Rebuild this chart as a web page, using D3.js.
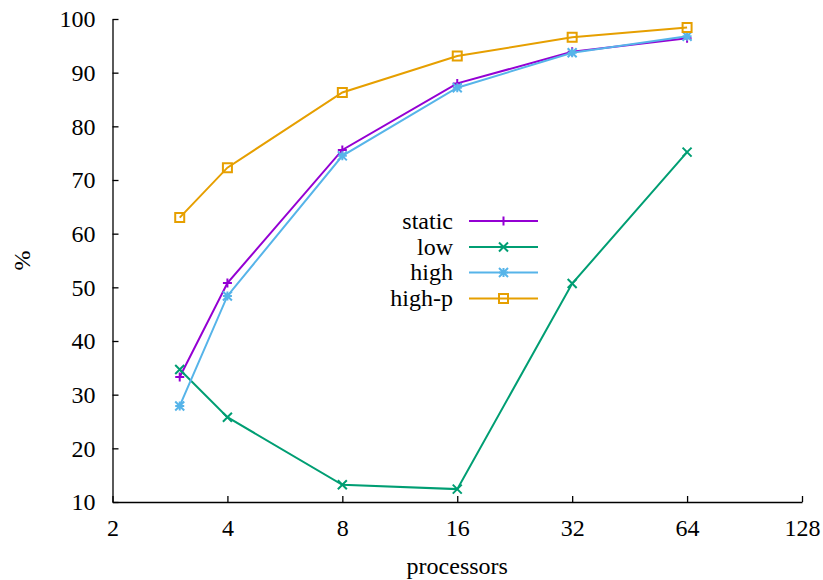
<!DOCTYPE html>
<html>
<head>
<meta charset="utf-8">
<script src="https://cdn.jsdelivr.net/npm/d3@7"></script>
<style>
  html, body { margin: 0; padding: 0; background: #fff; }
  svg { display: block; }
  text { font-family: "Liberation Serif", "DejaVu Serif", serif; fill: #000; }
</style>
</head>
<body>
<svg id="chart" width="823" height="580"></svg>
<script>
// Processor counts and percentages per scheduling variant
const processors = [3, 4, 8, 16, 32, 64];
const staticVals = [33.3, 50.8, 75.6, 88.0, 93.9, 96.4];
const lowVals    = [34.7, 25.8, 13.2, 12.4, 50.7, 75.2];
const highVals   = [27.9, 48.4, 74.5, 87.2, 93.7, 96.8];
const highPVals  = [63.0, 72.3, 86.3, 93.1, 96.6, 98.4];

const seriesNames  = ["static", "low", "high", "high-p"];
const seriesColors = ["#9400d3", "#009e73", "#56b4e9", "#e69f00"];
const seriesMarks  = ["plus", "cross", "star", "square"];

const xTicks = [2, 4, 8, 16, 32, 64, 128];
const yTicks = [10, 20, 30, 40, 50, 60, 70, 80, 90, 100];

const series = [staticVals, lowVals, highVals, highPVals].map((vals, i) => ({
  name: seriesNames[i], color: seriesColors[i], mark: seriesMarks[i],
  points: processors.map((p, j) => ({ x: p, y: vals[j] }))
}));

const svg = d3.select("#chart");
const margin = { left: 112.5, right: 21, top: 19, bottom: 78 };
const W = 823, H = 580;

const x = d3.scaleLog().base(2).domain([2, 128]).range([margin.left, W - margin.right]);
const y = d3.scaleLinear().domain([10, 100]).range([H - margin.bottom, margin.top]);

const fontSize = 24;

// Axes: ticks point into the plot area
const xAxis = d3.axisBottom(x).tickValues(xTicks).tickFormat(d3.format("d"))
  .tickSizeInner(-6).tickSizeOuter(0).tickPadding(17);
const yAxis = d3.axisLeft(y).tickValues(yTicks).tickFormat(d3.format("d"))
  .tickSizeInner(-6).tickSizeOuter(0).tickPadding(17);

const gx = svg.append("g").attr("transform", `translate(0,${y(10)})`).call(xAxis);
const gy = svg.append("g").attr("transform", `translate(${x(2)},0)`).call(yAxis);

[gx, gy].forEach(g => {
  g.select(".domain").attr("stroke", "#000").attr("stroke-width", 1.3);
  g.selectAll(".tick line").attr("stroke", "#000").attr("stroke-width", 1.3);
  g.selectAll(".tick text").attr("font-size", fontSize)
    .attr("font-family", "'Liberation Serif', 'DejaVu Serif', serif").attr("fill", "#000");
});
gx.selectAll(".tick text").attr("dy", "0.71em");
gx.selectAll(".tick line").attr("y2", -6);

// Axis titles
svg.append("text")
  .attr("x", (x(2) + x(128)) / 2).attr("y", 574)
  .attr("text-anchor", "middle").attr("font-size", fontSize)
  .text("processors");
svg.append("text")
  .attr("transform", `translate(30,${(y(10) + y(100)) / 2}) rotate(-90)`)
  .attr("text-anchor", "middle").attr("font-size", fontSize)
  .text("%");

// Point marker paths
function markPath(type, cx, cy) {
  const s = 4.5;
  switch (type) {
    case "plus":
      return `M${cx - s},${cy}H${cx + s}M${cx},${cy - s}V${cy + s}`;
    case "cross":
      return `M${cx - s},${cy - s}L${cx + s},${cy + s}M${cx - s},${cy + s}L${cx + s},${cy - s}`;
    case "star":
      return `M${cx - s},${cy}H${cx + s}M${cx},${cy - s}V${cy + s}` +
             `M${cx - s},${cy - s}L${cx + s},${cy + s}M${cx - s},${cy + s}L${cx + s},${cy - s}`;
    case "square":
      return `M${cx - s},${cy - s}H${cx + s}V${cy + s}H${cx - s}Z`;
  }
}

const line = d3.line().x(d => x(d.x)).y(d => y(d.y));

const plot = svg.append("g");
series.forEach(s => {
  const g = plot.append("g");
  g.append("path").datum(s.points)
    .attr("d", line).attr("fill", "none")
    .attr("stroke", s.color).attr("stroke-width", 2);
  g.selectAll("path.mk").data(s.points).join("path")
    .attr("class", "mk")
    .attr("d", d => markPath(s.mark, x(d.x), y(d.y)))
    .attr("fill", "none").attr("stroke", s.color).attr("stroke-width", 2);
});

// Legend
const legendRows = [221, 247, 272.5, 298.5];
const legend = svg.append("g");
series.forEach((s, i) => {
  const ly = legendRows[i];
  legend.append("text")
    .attr("x", 453).attr("y", ly).attr("dy", "0.32em")
    .attr("text-anchor", "end").attr("font-size", fontSize)
    .text(s.name);
  legend.append("line")
    .attr("x1", 469).attr("x2", 538).attr("y1", ly).attr("y2", ly)
    .attr("stroke", s.color).attr("stroke-width", 2);
  legend.append("path")
    .attr("d", markPath(s.mark, 503.5, ly))
    .attr("fill", "none").attr("stroke", s.color).attr("stroke-width", 2);
});
</script>
</body>
</html>
